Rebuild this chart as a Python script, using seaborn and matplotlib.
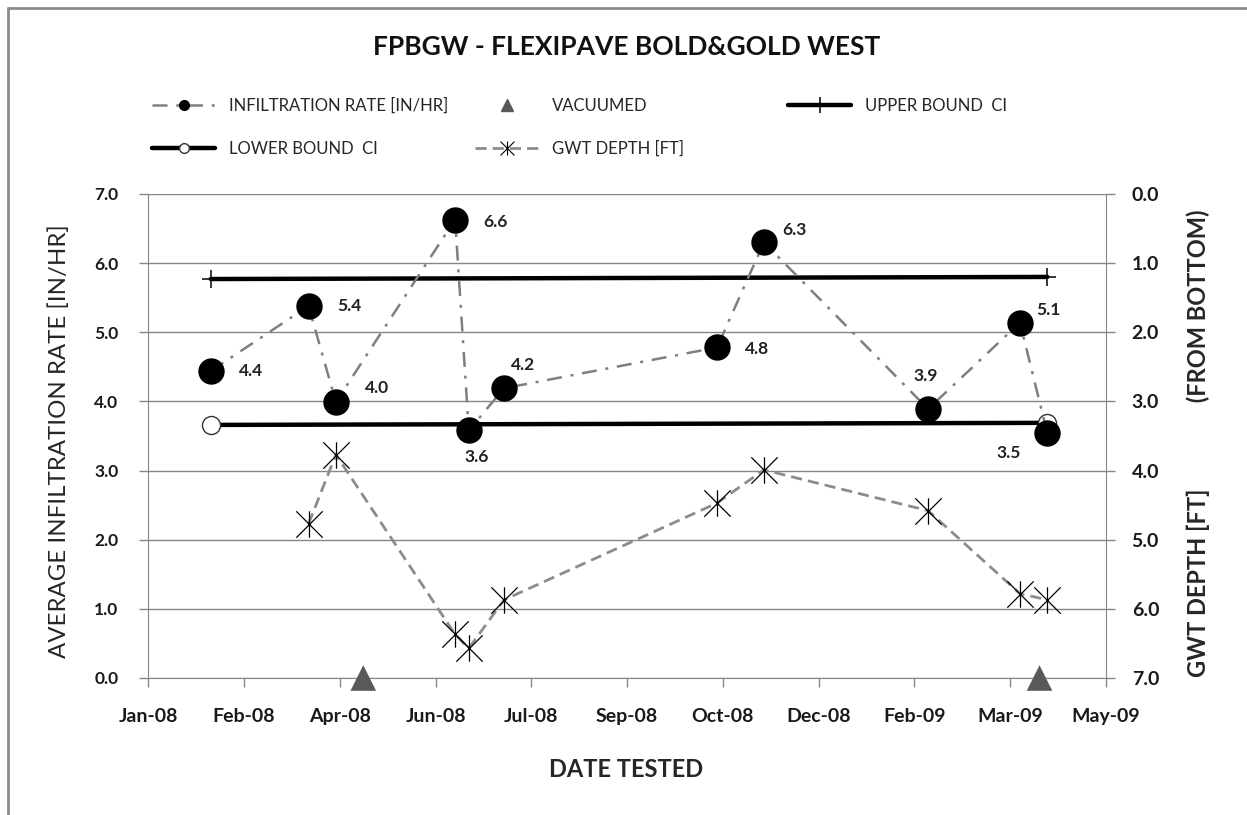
import matplotlib
matplotlib.use("Agg")
import matplotlib.pyplot as plt
import matplotlib.dates as mdates
from matplotlib.lines import Line2D
from matplotlib.path import Path
import seaborn as sns
import pandas as pd

# infiltration tests
ir_dates = pd.to_datetime(['2008-02-09', '2008-03-30', '2008-04-13', '2008-06-13', '2008-06-20',
                           '2008-07-08', '2008-10-25', '2008-11-18', '2009-02-10', '2009-03-29',
                           '2009-04-12'])
ir_rate = [4.44, 5.38, 3.99, 6.63, 3.58, 4.19, 4.78, 6.30, 3.89, 5.14, 3.54]

# ground water table depth (right axis, measured from bottom)
gwt_dates = pd.to_datetime(['2008-03-30', '2008-04-13', '2008-06-13', '2008-06-20', '2008-07-08',
                            '2008-10-25', '2008-11-18', '2009-02-10', '2009-03-29', '2009-04-12'])
gwt_depth = [4.77, 3.77, 6.37, 6.57, 5.87, 4.47, 3.99, 4.58, 5.78, 5.87]

# vacuuming events
vac_dates = pd.to_datetime(['2008-04-27', '2009-04-08'])
vac_level = [0.0, 0.0]

# confidence interval bounds
ci_dates = pd.to_datetime(['2008-02-09', '2009-04-12'])
upper_ci = [5.77, 5.80]
lower_ci = [3.66, 3.69]

# x axis ticks (Excel date axis, 49 day step)
tick_start = '2008-01-08'
tick_step = '49D'
n_ticks = 11

# data label offsets (points) and alignment
lab_off = [(20, 0), (21, 0), (21, 10), (20, -2), (6, -19), (5, 17),
           (20, -1), (13, 9), (-2, 24), (12, 9), (-28, -14)]
lab_ha = ['left', 'left', 'left', 'left', 'center', 'left',
          'left', 'left', 'center', 'left', 'center']

sns.set_style("white")
plt.rcParams['font.family'] = ['Lato', 'DejaVu Sans']

grey = '#868686'
asterisk = Path([(0, -1), (0, 1), (-1, -1), (1, 1), (-1, 1), (1, -1)],
                [Path.MOVETO, Path.LINETO, Path.MOVETO, Path.LINETO, Path.MOVETO, Path.LINETO])

fig = plt.figure(figsize=(12.47, 8.15), dpi=100)
ax = fig.add_axes([0.1189, 0.1681, 0.768, 0.5939])
ax2 = ax.twinx()

# infiltration rate
sns.lineplot(x=ir_dates, y=ir_rate, ax=ax, color='#7f7f7f', linewidth=1.8,
             linestyle=(0, (6, 3.5, 1.2, 3.5)), marker='o', markersize=19,
             markerfacecolor='black', markeredgecolor='black', markeredgewidth=0,
             errorbar=None, zorder=4)
# vacuumed
sns.scatterplot(x=vac_dates, y=vac_level, ax=ax, marker='^', s=340, color='#595959',
                edgecolor='none', clip_on=False, zorder=6)
# CI bounds
sns.lineplot(x=ci_dates, y=upper_ci, ax=ax, color='black', linewidth=3.2, marker='+',
             markersize=13, markeredgewidth=1.1, markeredgecolor='black', errorbar=None, zorder=3)
sns.lineplot(x=ci_dates, y=lower_ci, ax=ax, color='black', linewidth=3.2, marker='o',
             markersize=13, markerfacecolor='white', markeredgecolor='#333333',
             markeredgewidth=1.0, errorbar=None, zorder=3)
# ground water table
sns.lineplot(x=gwt_dates, y=gwt_depth, ax=ax2, color='#8c8c8c', linewidth=2,
             linestyle=(0, (4, 2.2)), marker=asterisk, markersize=19,
             markerfacecolor='none', markeredgecolor='black', markeredgewidth=0.9,
             errorbar=None)

# data labels
for d, v, off, ha in zip(ir_dates, ir_rate, lab_off, lab_ha):
    ax.annotate(f'{v:.1f}', (d, v), xytext=off, textcoords='offset points',
                ha=ha, va='center', fontsize=12.5, fontweight='bold', color='#222222', zorder=7)

# axes
ax.set_ylim(0, 7)
ax.set_yticks(range(8))
ax.set_yticklabels([f'{v:.1f}' for v in range(8)])
ax2.set_ylim(7, 0)
ax2.set_yticks(range(8))
ax2.set_yticklabels([f'{v:.1f}' for v in range(8)])

ticks = pd.date_range(tick_start, periods=n_ticks, freq=tick_step)
ax.set_xlim(ticks[0], ticks[-1])
ax.set_xticks(ticks)
ax.xaxis.set_major_formatter(mdates.DateFormatter('%b-%y'))

ax.yaxis.grid(True, color=grey, linewidth=1)
ax.xaxis.grid(False)
ax2.grid(False)
for s in ['top', 'right']:
    ax.spines[s].set_visible(False)
for s in ['top', 'left', 'bottom']:
    ax2.spines[s].set_visible(False)
for s in ['left', 'bottom']:
    ax.spines[s].set_color(grey)
ax2.spines['right'].set_color(grey)

ax.tick_params(axis='both', direction='out', length=6.5, width=1, color=grey,
               bottom=True, left=True)
ax.tick_params(axis='x', pad=15, labelsize=14)
ax.tick_params(axis='y', pad=15, labelsize=12.5)
ax2.tick_params(axis='y', direction='out', length=6.5, width=1, color=grey,
                right=True, labelsize=14, pad=12)
for lab in ax.get_xticklabels() + ax.get_yticklabels() + ax2.get_yticklabels():
    lab.set_fontweight('bold')
    lab.set_color('#1a1a1a')

ax.set_ylabel('AVERAGE INFILTRATION RATE [IN/HR]', fontsize=17.3)
ax.yaxis.set_label_coords(-0.093, 0.49)
ax.yaxis.label.set_va('center')
ax2.set_ylabel('GWT DEPTH [FT]' + ' ' * 15 + '(FROM BOTTOM)', fontsize=17, fontweight='bold',
               rotation=90)
ax2.yaxis.set_label_coords(1.096, 0.486)
ax2.yaxis.label.set_va('center')
ax.set_xlabel('DATE TESTED', fontsize=17, fontweight='bold')
ax.xaxis.set_label_coords(0.499, -0.19)
ax.xaxis.label.set_va('center')

fig.text(627 / 1247, 1 - 47 / 815, 'FPBGW - FLEXIPAVE BOLD&GOLD WEST', ha='center', va='center',
         fontsize=19, fontweight='bold', color='#111111')

# legend, laid out like the Excel one
entries = [
    (Line2D([], [], color='#7f7f7f', lw=1.8, ls=(0, (6, 3.5, 1.2, 3.5)), marker='o', ms=7,
            mfc='black', mec='black'), 'INFILTRATION RATE [IN/HR]', 152, 106),
    (Line2D([], [], ls='none', marker='^', ms=9, mfc='#595959', mec='#595959'), 'VACUUMED', 475, 106),
    (Line2D([], [], color='black', lw=3.2, marker='+', ms=12, mew=1.1, mec='black'),
     'UPPER BOUND  CI', 788, 106),
    (Line2D([], [], color='black', lw=3.2, marker='o', ms=7, mfc='white', mec='#333333'),
     'LOWER BOUND  CI', 152, 149),
    (Line2D([], [], color='#8c8c8c', lw=2, ls=(0, (4, 2.2)), marker=asterisk, ms=10,
            mfc='none', mec='black', mew=0.8), 'GWT DEPTH [FT]', 475, 149),
]
for h, lab, x, y in entries:
    fig.legend(handles=[h], labels=[lab], loc='center left',
               bbox_to_anchor=(x / 1247, 1 - y / 815), frameon=False, fontsize=12,
               borderpad=0, borderaxespad=0, handlelength=3.8, handletextpad=0.8)

# chart frame
fig.add_artist(Line2D([8 / 1247, 1], [1 - 8 / 815] * 2, transform=fig.transFigure, color='#8c8c8c', lw=2))
fig.add_artist(Line2D([8 / 1247] * 2, [0, 1 - 8 / 815], transform=fig.transFigure, color='#8c8c8c', lw=2))

fig.savefig('out.png', dpi=100)
